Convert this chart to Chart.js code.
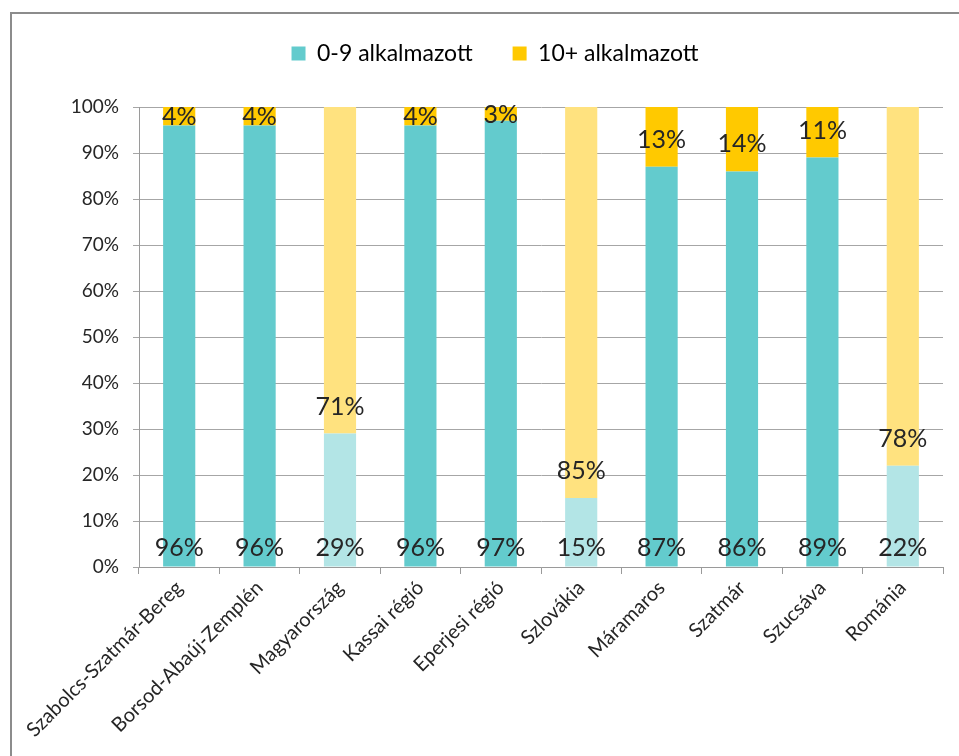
<!DOCTYPE html>
<html>
<head>
<meta charset="utf-8">
<script src="https://cdn.jsdelivr.net/npm/chart.js@4"></script>
<style>
  html, body { margin: 0; padding: 0; background: #fff; overflow: hidden; }
  #wrap { position: relative; width: 959px; height: 756px; }
  #frame { position: absolute; left: 10px; top: 12px; width: 1000px; height: 800px;
           border: 2px solid #8c8c8c; box-sizing: border-box; }
  canvas { position: absolute; left: 0; top: 0; }
</style>
</head>
<body>
<div id="wrap">
  <div id="frame"></div>
  <canvas id="vallalkozasok" width="959" height="756"></canvas>
</div>
<script>
/* Vállalkozások megoszlása létszám szerint */

const teruletek = ['Szabolcs-Szatmár-Bereg', 'Borsod-Abaúj-Zemplén', 'Magyarország', 'Kassai régió',
  'Eperjesi régió', 'Szlovákia', 'Máramaros', 'Szatmár', 'Szucsáva', 'Románia'];
const orszagok = ['Magyarország', 'Szlovákia', 'Románia'];
const kicsi = [96, 96, 29, 96, 97, 15, 87, 86, 89, 22];   // 0-9 alkalmazott
const nagy = [4, 4, 71, 4, 3, 85, 13, 14, 11, 78];        // 10+ alkalmazott
const yTicks = [0, 10, 20, 30, 40, 50, 60, 70, 80, 90, 100];

const FONT = 'Lato, "Open Sans", sans-serif';
const TEXT = '#262626';

function barColors(base, light) {
  return teruletek.map(t => orszagok.includes(t) ? light : base);
}

// percent labels: small firms at the bottom, 10+ just above the boundary
const szazalekPlugin = {
  id: 'szazalek',
  afterDatasetsDraw(chart) {
    const ctx = chart.ctx;
    const y = chart.scales.y;
    ctx.save();
    ctx.font = '25px ' + FONT;
    ctx.fillStyle = TEXT;
    ctx.textAlign = 'center';
    ctx.textBaseline = 'middle';
    chart.getDatasetMeta(0).data.forEach((bar, i) => {
      ctx.fillText(kicsi[i] + '%', bar.x, y.getPixelForValue(0) - 19);
    });
    chart.getDatasetMeta(1).data.forEach((bar, i) => {
      const bottom = y.getPixelForValue(kicsi[i]);
      const top = y.getPixelForValue(kicsi[i] + nagy[i]);
      const h = bottom - top;
      const cy = h < 40 ? (top + bottom) / 2 + 1 : bottom - 27;
      ctx.fillText(nagy[i] + '%', bar.x, cy);
    });
    ctx.restore();
  }
};

// keep the legend band tall so the plot starts lower
const legendHeight = {
  id: 'legendHeight',
  beforeLayout(chart) {
    const lg = chart.legend;
    if (lg && !lg._patched) {
      const fit = lg.fit.bind(lg);
      lg.fit = function () { fit(); this.height = 105; };
      lg._patched = true;
    }
  }
};

new Chart(document.getElementById('vallalkozasok'), {
  type: 'bar',
  data: {
    labels: teruletek,
    datasets: [
      {
        label: '0-9 alkalmazott',
        data: kicsi,
        backgroundColor: barColors('#63cbcd', '#b3e5e6')
      },
      {
        label: '10+ alkalmazott',
        data: nagy,
        backgroundColor: barColors('#ffc900', '#ffe27f')
      }
    ]
  },
  options: {
    responsive: false,
    animation: false,
    layout: { padding: { left: 47, right: 16, top: 2, bottom: 0 } },
    datasets: { bar: { barPercentage: 0.4, categoryPercentage: 1.0, borderWidth: 0 } },
    plugins: {
      tooltip: { enabled: false },
      legend: {
        position: 'top',
        labels: {
          font: { family: FONT, size: 23 },
          color: TEXT,
          boxWidth: 14,
          boxHeight: 14,
          padding: 40,
          generateLabels(chart) {
            const base = ['#63cbcd', '#ffc900'];
            return chart.data.datasets.map((ds, i) => ({
              text: ds.label,
              fillStyle: base[i],
              strokeStyle: base[i],
              lineWidth: 0,
              datasetIndex: i
            }));
          }
        }
      }
    },
    scales: {
      x: {
        stacked: true,
        grid: { drawOnChartArea: false, drawTicks: true, tickLength: 7, color: '#9a9a9a', offset: true },
        border: { color: '#9a9a9a', width: 1 },
        ticks: {
          font: { family: FONT, size: 20 },
          color: TEXT,
          minRotation: 45,
          maxRotation: 45,
          autoSkip: false,
          padding: 2
        },
        afterFit(scale) { scale.height = 189; }
      },
      y: {
        stacked: true,
        min: 0,
        max: 100,
        afterBuildTicks(scale) { scale.ticks = yTicks.map(v => ({ value: v })); },
        grid: { color: '#a6a6a6', tickLength: 6, lineWidth: 1 },
        border: { color: '#9a9a9a', width: 1 },
        ticks: {
          font: { family: FONT, size: 19 },
          color: TEXT,
          padding: 14,
          callback: v => v + '%'
        },
        afterFit(scale) { scale.width = 92; }
      }
    }
  },
  plugins: [szazalekPlugin, legendHeight]
});
</script>
</body>
</html>
